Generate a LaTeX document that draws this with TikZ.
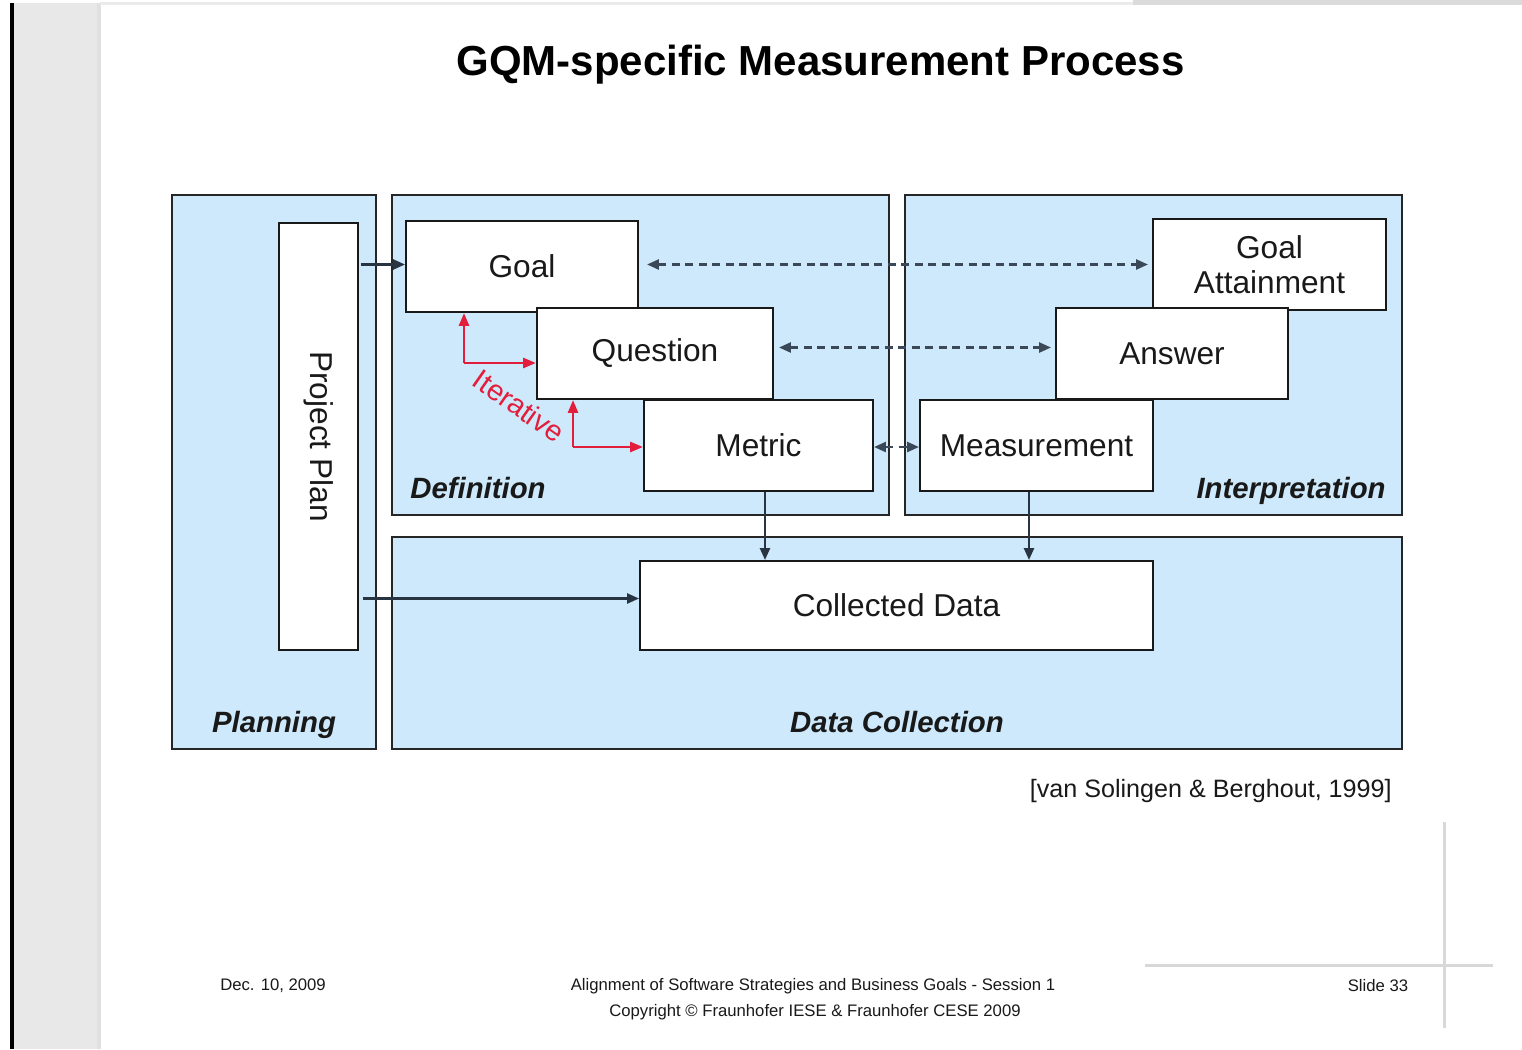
\documentclass[tikz,border=0pt]{standalone}
\usepackage{fontspec}
\setmainfont{Liberation Sans}
\usetikzlibrary{arrows.meta,calc}
\definecolor{panelblue}{RGB}{205,233,251}
\definecolor{arrowgray}{RGB}{40,52,66}
\definecolor{dashgray}{RGB}{58,72,88}
\definecolor{iterred}{RGB}{226,30,60}
\definecolor{sidegray}{RGB}{232,232,232}
\definecolor{rulegray}{RGB}{216,216,216}
\definecolor{textdark}{RGB}{25,25,25}
\tikzset{
  panel/.style={draw=black!85, line width=0.04cm, fill=panelblue, inner sep=0pt},
  box/.style={draw=black!90, line width=0.04cm, fill=white, inner sep=0pt,
    font=\fontsize{18}{21}\selectfont, text=textdark, align=center},
  grouplabel/.style={font=\fontsize{16.7}{20}\selectfont\bfseries\itshape, text=textdark, inner sep=0pt},
  solidarrow/.style={draw=arrowgray, line width=0.048cm, -{Triangle[length=0.24cm,width=0.2cm]}},
  dasharrow/.style={draw=dashgray, line width=0.05cm, dash pattern=on 0.16cm off 0.11cm,
    {Triangle[length=0.24cm,width=0.2cm]}-{Triangle[length=0.24cm,width=0.2cm]}},
  redarrow/.style={draw=iterred, line width=0.055cm, -{Triangle[length=0.26cm,width=0.2cm]}},
  footer/.style={font=\fontsize{9.5}{11.5}\selectfont, text=textdark, inner sep=0pt, align=center}
}
\begin{document}
\begin{tikzpicture}[x=0.02cm,y=-0.02cm]
% page background
\path[use as bounding box, fill=white] (0,0) rectangle (1522,1049);
\fill[sidegray] (14,3) rectangle (100,1049);
\fill[black!12] (97,3) rectangle (101,1049);
\fill[black] (10,3) rectangle (14,1049);
\fill[black!8] (100,2) rectangle (1133,5);
\fill[black!14] (1133,0) rectangle (1522,5);
\draw[rulegray, line width=0.06cm] (1444,822) -- (1444,1028);
\draw[rulegray, line width=0.06cm] (1145,965) -- (1493,965);

% title
\node[anchor=base, font=\fontsize{23.9}{28}\selectfont\bfseries, inner sep=0pt] (title) at (820.5,75) {GQM-specific Measurement Process};

% panels
\node[panel, minimum width=4.08cm, minimum height=11.08cm] (planning) at (274,472) {};
\node[panel, minimum width=9.94cm, minimum height=6.4cm] (definition) at (640.5,355) {};
\node[panel, minimum width=9.94cm, minimum height=6.4cm] (interpretation) at (1153.5,355) {};
\node[panel, minimum width=20.2cm, minimum height=4.24cm] (datacollection) at (897,643) {};

\node[grouplabel, anchor=base west] (deflabel) at (410,498) {Definition};
\node[grouplabel, anchor=base east] (intlabel) at (1386,498) {Interpretation};
\node[grouplabel, anchor=base] (planlabel) at (274,732) {Planning};
\node[grouplabel, anchor=base] (dclabel) at (897,732) {Data Collection};

% boxes
\node[box, minimum width=1.58cm, minimum height=8.54cm] (pp) at (318.5,436.5) {};
\node[font=\fontsize{18}{21}\selectfont, text=textdark, rotate=-90] (pptext) at (pp.center) {Project Plan};
\node[box, minimum width=4.64cm, minimum height=1.82cm] (goal) at (522,266.5) {Goal};
\node[box, minimum width=4.72cm, minimum height=1.82cm] (question) at (655,353.5) {Question};
\node[box, minimum width=4.58cm, minimum height=1.82cm] (metric) at (758.5,445.5) {Metric};
\node[box, minimum width=4.66cm, minimum height=1.82cm] (goalatt) at (1269.5,264.5) {Goal\\[-1pt]Attainment};
\node[box, minimum width=4.64cm, minimum height=1.82cm] (answer) at (1172,353.5) {Answer};
\node[box, minimum width=4.66cm, minimum height=1.82cm] (measurement) at (1036.5,445.5) {Measurement};
\node[box, minimum width=10.26cm, minimum height=1.78cm] (collected) at (896.5,605.5) {Collected Data};

% solid arrows
\draw[solidarrow] ($(pp.east |- goal.west)+(2,-2)$) -- ($(goal.west)+(0,-2)$);
\draw[solidarrow] ($(pp.east |- collected.west)+(4,-7)$) -- ($(collected.west)+(0,-7)$);
\draw[solidarrow] ($(metric.south)+(6.5,0)$) -- ($(metric.south |- collected.north)+(6.5,0)$);
\draw[solidarrow] ($(measurement.south)+(-7.5,0)$) -- ($(measurement.south |- collected.north)+(-7.5,0)$);

% dashed arrows
\draw[dasharrow, shorten <=0.16cm, shorten >=0.08cm] ($(goal.east)+(0,-2)$) -- ($(goalatt.west |- goal.east)+(0,-2)$);
\draw[dasharrow, shorten <=0.1cm, shorten >=0.08cm] ($(question.east)+(0,-6)$) -- ($(answer.west)+(0,-6)$);
\draw[dasharrow] ($(metric.east)+(0,1.5)$) -- ($(measurement.west)+(0,1.5)$);

% iterative arrows
\coordinate (r1) at (464,363);
\coordinate (r2) at (573,447);
\draw[redarrow] (r1) -- (r1 |- goal.south);
\draw[redarrow] (r1) -- (r1 -| question.west);
\draw[redarrow] (r2) -- (r2 |- question.south);
\draw[redarrow] (r2) -- (r2 -| metric.west);
\node[text=iterred, font=\fontsize{16.5}{19}\selectfont, rotate=-35, inner sep=0pt] (iter) at (519,406) {Iterative};

% citation and footer
\node[anchor=east, font=\fontsize{14.3}{17}\selectfont, text=textdark, inner sep=0pt] (cite) at (1392,791) {[van Solingen \& Berghout, 1999]};
\node[footer] (date) at (273,986) {Dec. 10, 2009};
\node[footer] (course) at (813,986) {Alignment of Software Strategies and Business Goals - Session 1};
\node[footer] (copy) at (815,1012) {Copyright © Fraunhofer IESE \& Fraunhofer CESE 2009};
\node[footer] (slide) at (1378,986) {Slide 33};
\end{tikzpicture}
\end{document}
